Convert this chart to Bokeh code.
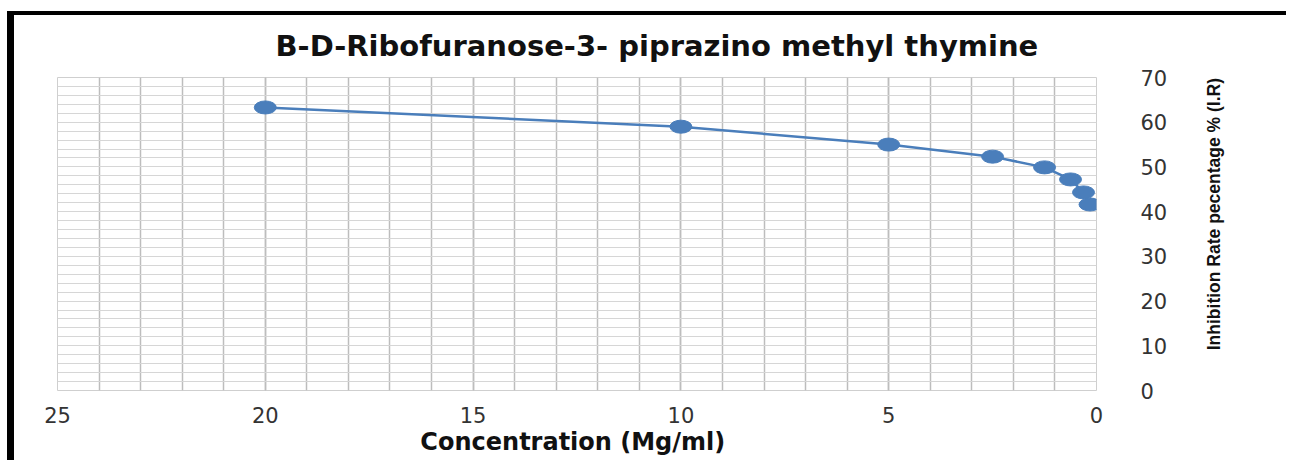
import math

from bokeh.core.properties import value
from bokeh.embed import file_html
from bokeh.layouts import row
from bokeh.models import FixedTicker, Range1d
from bokeh.plotting import figure
from bokeh.resources import INLINE

# Inhibition rate measured at each concentration (Mg/ml)
concentration = [20, 10, 5, 2.5, 1.25, 0.625, 0.3125, 0.156]
inhibition = [63.3, 59.0, 55.0, 52.3, 49.9, 47.2, 44.3, 41.6]

x_ticks = [0, 5, 10, 15, 20, 25]
x_minor = list(range(0, 26))
y_ticks = [0, 10, 20, 30, 40, 50, 60, 70]
y_minor = list(range(0, 71, 2))

title_text = "B-D-Ribofuranose-3- piprazino   methyl thymine"
x_label = "Concentration  (Mg/ml)"
y_label = "Inhibition Rate pecentage % (I.R)"

blue = "#4a7ebb"

p = figure(
    width=1176,
    height=449,
    output_backend="svg",
    toolbar_location=None,
    x_range=Range1d(25, 0),
    y_range=Range1d(0, 70),
    y_axis_location="right",
    min_border_left=43,
    min_border_right=94,
    min_border_top=62,
    min_border_bottom=74,
    title=title_text,
    margin=(11, 0, 0, 7),
    styles={"border-top": "4px solid #000", "border-left": "7px solid #000"},
)

p.background_fill_color = "white"
p.border_fill_color = "white"
p.outline_line_color = "#cfcfcf"

# title
p.title.text_font = "DejaVu Sans"
p.title.text_font_style = "bold"
p.title.text_font_size = "29px"
p.title.text_color = "#111111"
p.title.align = "left"
p.title.offset = 218
p.title.vertical_align = "top"
p.title.standoff = 26

# axes
p.xaxis.ticker = FixedTicker(ticks=x_ticks, minor_ticks=x_minor)
p.yaxis.ticker = FixedTicker(ticks=y_ticks, minor_ticks=y_minor)
for ax in (p.xaxis, p.yaxis):
    ax.axis_line_color = None
    ax.major_tick_line_color = None
    ax.minor_tick_line_color = None
    ax.major_label_text_font = "DejaVu Sans"
    ax.major_label_text_font_size = "21px"
    ax.major_label_text_color = "#333333"
p.xaxis.major_label_standoff = 10
p.yaxis.major_label_standoff = 38

p.xaxis.axis_label = x_label
p.xaxis.axis_label_text_font = "DejaVu Sans"
p.xaxis.axis_label_text_font_style = "bold"
p.xaxis.axis_label_text_font_size = "24px"
p.xaxis.axis_label_text_color = "#111111"
p.xaxis.axis_label_standoff = 2

# grid: every unit on x, every 2 on y
p.xgrid.grid_line_color = "#bdbdbd"
p.xgrid.grid_line_width = 1.5
p.xgrid.minor_grid_line_color = "#bdbdbd"
p.xgrid.minor_grid_line_width = 1.5
p.ygrid.grid_line_color = "#d6d6d6"
p.ygrid.grid_line_width = 1.2
p.ygrid.minor_grid_line_color = "#d6d6d6"
p.ygrid.minor_grid_line_width = 1.2

# series
p.line(concentration, inhibition, line_color=blue, line_width=2.5)
p.ellipse(
    x=concentration,
    y=inhibition,
    width=22,
    height=13,
    width_units="screen",
    height_units="screen",
    fill_color=blue,
    line_color=blue,
)

# narrow strip to the right holding the value-axis title, reading upwards
side = figure(
    width=103,
    height=449,
    output_backend="svg",
    toolbar_location=None,
    x_range=Range1d(0, 103),
    y_range=Range1d(0, 449),
    x_axis_location=None,
    y_axis_location=None,
    min_border=0,
    margin=(11, 0, 0, 0),
    styles={"border-top": "4px solid #000"},
)
side.outline_line_color = None
side.background_fill_color = "white"
side.border_fill_color = "white"
side.grid.grid_line_color = None
side.text(
    x=[30],
    y=[253],
    text=[y_label],
    angle=math.pi / 2,
    text_align="center",
    text_baseline="middle",
    text_font=value("Liberation Sans"),
    text_font_style="bold",
    text_font_size=value("17.5px"),
    text_color="#111111",
)

layout = row(p, side)

open("out.html", "w").write(file_html(layout, INLINE))
